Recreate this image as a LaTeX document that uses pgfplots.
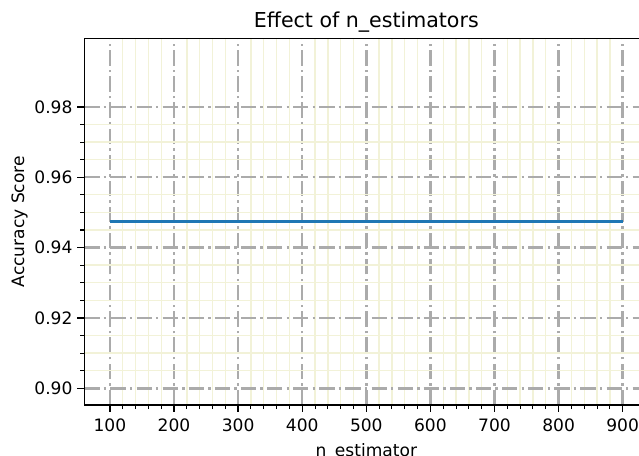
\documentclass[border=0pt]{standalone}
\usepackage{pgfplots}
\pgfplotsset{compat=1.18}
\usepackage{fontspec}
\setmainfont{DejaVu Sans}
\definecolor{mplblue}{HTML}{1F77B4}
\definecolor{majgrid}{HTML}{ABABAB}
\definecolor{mingrid}{HTML}{F2F2D8}
\begin{document}
\begin{tikzpicture}
\begin{axis}[
  at={(0pt,0pt)}, anchor=south west,
  scale only axis,
  width=406.1pt, height=264pt,
  xmin=60, xmax=940,
  ymin=0.895263, ymax=0.999474,
  xtick={100,200,...,900},
  ytick={0.90,0.92,0.94,0.96,0.98},
  yticklabel style={/pgf/number format/.cd, fixed, fixed zerofill, precision=2},
  /pgf/number format/assume math mode=true,
  minor x tick num=4,
  minor y tick num=3,
  tick align=outside,
  xtick pos=bottom, ytick pos=left,
  major tick length=5pt,
  minor tick length=3pt,
  every tick/.style={black, line width=1pt},
  minor tick style={black, line width=0.75pt},
  axis line style={black, line width=1pt},
  grid=both,
  major grid style={majgrid, line width=1.8pt, dash pattern=on 11pt off 3pt on 1.8pt off 3pt},
  minor grid style={mingrid, line width=1pt},
  tick label style={font=\fontsize{12.3}{14}\selectfont, black},
  xticklabel style={yshift=-1.5pt},
  title={Effect of n\_estimators},
  title style={font=\fontsize{14.8}{17}\selectfont, yshift=-5pt},
  xlabel={n\_estimator},
  ylabel={Accuracy Score},
  label style={font=\fontsize{12.3}{14}\selectfont},
  xlabel style={yshift=-1.3pt},
  ylabel style={yshift=-2pt},
]
\addplot[mplblue, line width=1.85pt] coordinates {
  (100,0.947368) (200,0.947368) (300,0.947368) (400,0.947368) (500,0.947368)
  (600,0.947368) (700,0.947368) (800,0.947368) (900,0.947368)
};
\end{axis}
\pgfresetboundingbox
\useasboundingbox (-60.7pt,-36.7pt) rectangle (399.4pt,291.6pt);
\end{tikzpicture}
\end{document}
